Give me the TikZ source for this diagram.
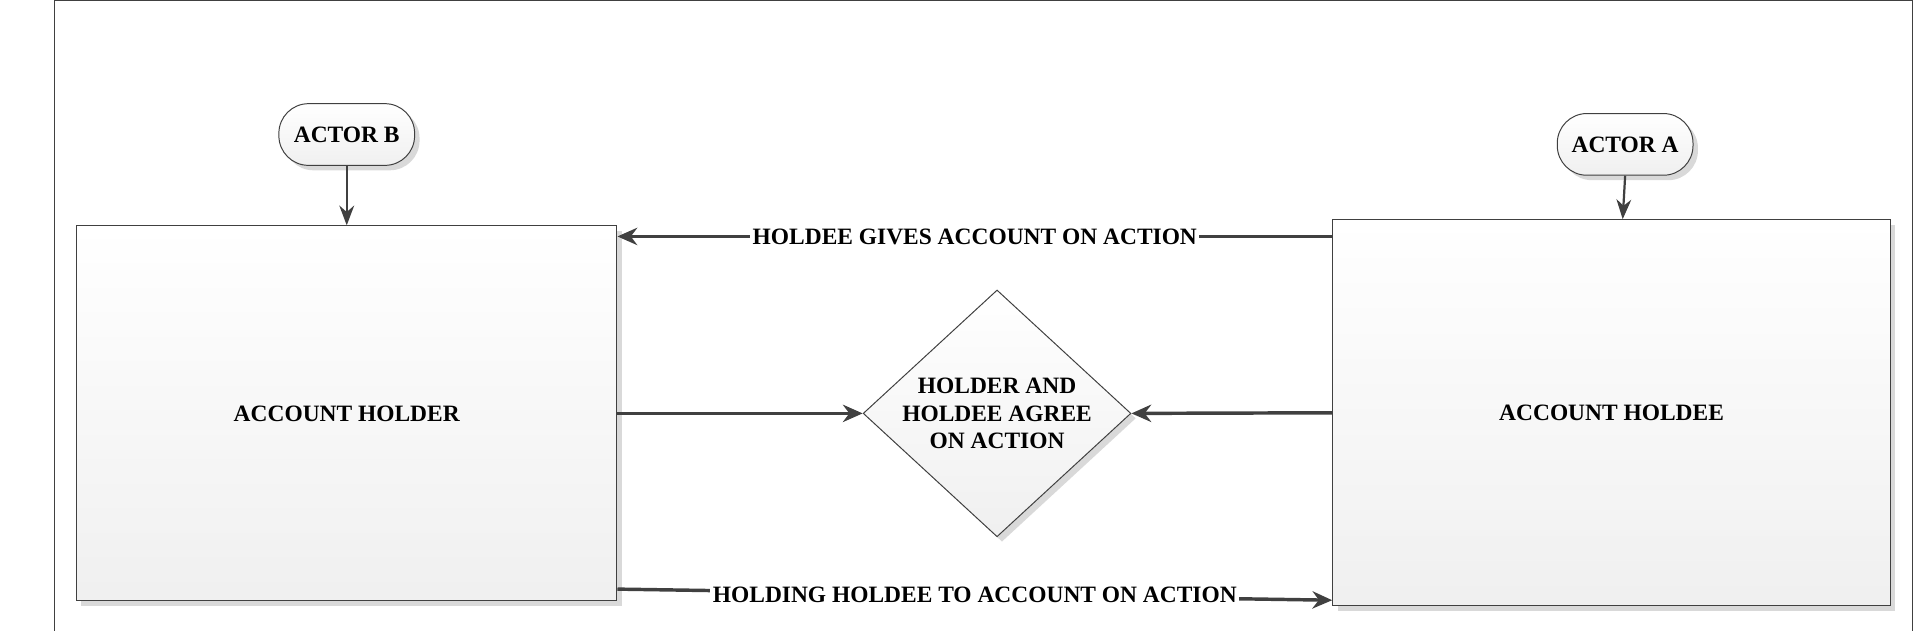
\documentclass[tikz,border=0pt]{standalone}
\usepackage{fontspec}
\setmainfont{Liberation Serif}
\usetikzlibrary{shapes.geometric,arrows.meta,shadows,calc}
\begin{document}
\begin{tikzpicture}[x=0.5pt,y=-0.5pt,
  lbl/.style={font=\bfseries\fontsize{9.5}{11}\selectfont,text=black},
  box/.style={draw=black!75,line width=0.4pt,top color=white,bottom color=black!6,
     drop shadow={shadow xshift=2pt,shadow yshift=-2pt,fill=black!15,opacity=1},inner sep=0pt,lbl},
  actor/.style={box,rounded corners=12pt,minimum width=55pt,minimum height=25pt},
  conn/.style={draw=black!75,line width=1.4pt,-{Stealth[length=8pt,width=7pt]}},
  thin/.style={draw=black!75,line width=0.9pt,-{Stealth[length=8pt,width=6pt]}}]
\useasboundingbox (0,0) rectangle (1560,511);
\draw[black!75,line width=0.6pt] (44,511) -- (44,0.5) -- (1550,0.5) -- (1550,511);
\node[actor] (b) at (281,109) {ACTOR B};
\node[actor] (a) at (1317,117) {ACTOR A};
\node[box,minimum width=219pt,minimum height=152pt] (holder) at (281,335) {ACCOUNT HOLDER};
\node[box,minimum width=226pt,minimum height=156.5pt] (holdee) at (1306,334.5) {ACCOUNT HOLDEE};
\node[box,diamond,aspect=1.085,minimum width=108.5pt,minimum height=100pt,align=center] (d) at (808,335) {HOLDER AND\\HOLDEE AGREE\\ON ACTION};
\draw[thin] (b) -- (holder.north);
\draw[thin] (a.south) -- ($(holdee.north)+(9,0)$);
\draw[conn] ($(holdee.north west)+(0,14)$) -- node[lbl,fill=white,inner sep=1pt] {HOLDEE GIVES ACCOUNT ON ACTION} ($(holder.north east)+(0,9)$);
\draw[conn] (holder.east) -- (d.west);
\draw[conn] (holdee.west) -- (d.east);
\coordinate (bs) at ($(holder.south east)+(0,-10)$);
\coordinate (be) at ($(holdee.south west)+(0,-5)$);
\draw[conn] (bs) -- node[lbl,fill=white,inner sep=1pt] {HOLDING HOLDEE TO ACCOUNT ON ACTION} (be);
\end{tikzpicture}
\end{document}
